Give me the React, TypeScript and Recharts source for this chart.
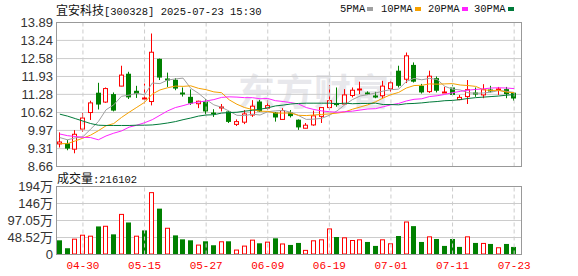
import { Bar, CartesianGrid, ComposedChart, Line, ReferenceLine, XAxis, YAxis } from 'recharts';

const dates = [
  '04-25', '04-28', '04-29', '04-30', '05-06', '05-07', '05-08', '05-09', '05-12', '05-13',
  '05-14', '05-15', '05-16', '05-19', '05-20', '05-21', '05-22', '05-23', '05-26', '05-27',
  '05-28', '05-29', '05-30', '06-03', '06-04', '06-05', '06-06', '06-09', '06-10', '06-11',
  '06-12', '06-13', '06-16', '06-17', '06-18', '06-19', '06-20', '06-23', '06-24', '06-25',
  '06-26', '06-27', '06-30', '07-01', '07-02', '07-03', '07-04', '07-07', '07-08', '07-09',
  '07-10', '07-11', '07-14', '07-15', '07-16', '07-17', '07-18', '07-21', '07-22', '07-23',
];

const opens = [
  9.48, 9.5, 9.29, 10.02, 10.62, 11.34, 11.0, 11.29, 11.58, 12.03,
  11.41, 11.13, 11.02, 12.57, 11.87, 11.81, 11.37, 11.19, 10.94, 11.02,
  10.62, 10.78, 10.66, 10.19, 10.27, 10.53, 11.02, 10.78, 10.62, 10.37,
  10.62, 10.36, 10.05, 10.17, 10.48, 10.8, 10.97, 10.93, 11.24, 11.45,
  11.34, 11.25, 11.23, 11.49, 12.14, 11.83, 12.35, 11.59, 11.38, 11.87,
  11.36, 11.53, 11.09, 11.2, 11.35, 11.26, 11.46, 11.45, 11.47, 11.34,
];
const closes = [
  9.55, 9.31, 9.83, 10.42, 10.97, 10.91, 11.49, 10.69, 11.98, 11.17,
  11.29, 11.18, 12.81, 11.89, 11.83, 11.49, 11.32, 10.95, 11.03, 10.66,
  10.56, 10.83, 10.28, 10.29, 10.57, 10.85, 10.66, 10.87, 10.44, 10.69,
  10.49, 10.08, 10.16, 10.5, 10.8, 11.05, 10.89, 11.26, 11.43, 11.49,
  11.29, 11.2, 11.58, 11.7, 11.59, 12.68, 11.74, 11.35, 11.94, 11.41,
  11.4, 11.26, 11.17, 11.45, 11.31, 11.45, 11.41, 11.48, 11.29, 11.13,
];
const highs = [
  9.9, 9.63, 9.98, 10.6, 11.05, 11.7, 11.53, 11.35, 12.32, 12.1,
  11.59, 11.67, 13.49, 12.58, 12.07, 11.87, 11.53, 11.46, 11.05, 11.11,
  10.74, 10.93, 10.68, 10.37, 10.71, 11.07, 11.08, 11.07, 10.64, 10.78,
  10.71, 10.37, 10.24, 10.69, 10.81, 11.62, 11.53, 11.47, 11.53, 11.74,
  11.39, 11.37, 11.77, 11.77, 12.32, 12.8, 12.44, 11.66, 12.14, 11.93,
  11.55, 11.63, 11.26, 11.8, 11.53, 11.65, 11.59, 11.55, 11.55, 11.35,
];
const lows = [
  9.35, 9.25, 9.14, 9.92, 10.35, 10.73, 10.97, 10.66, 11.57, 11.11,
  11.15, 10.95, 10.88, 11.8, 11.55, 11.43, 11.2, 10.9, 10.78, 10.56,
  10.46, 10.66, 10.24, 10.13, 10.2, 10.46, 10.64, 10.71, 10.29, 10.36,
  10.44, 9.99, 10.04, 10.14, 10.24, 10.71, 10.83, 10.92, 11.17, 11.29,
  11.26, 11.14, 11.14, 11.38, 11.53, 11.69, 11.71, 11.31, 11.33, 11.35,
  11.33, 11.23, 11.07, 10.93, 11.19, 11.14, 11.35, 11.26, 11.14, 11.05,
];

const ma5 = [
  9.71, 9.63, 9.7, 9.74, 10.02, 10.29, 10.72, 10.9, 11.21, 11.25,
  11.32, 11.26, 11.69, 11.67, 11.8, 11.84, 11.87, 11.5, 11.32, 11.09,
  10.9, 10.81, 10.67, 10.52, 10.51, 10.56, 10.53, 10.65, 10.68, 10.7,
  10.63, 10.51, 10.37, 10.38, 10.41, 10.52, 10.68, 10.9, 11.09, 11.22,
  11.27, 11.33, 11.4, 11.45, 11.47, 11.75, 11.86, 11.81, 11.86, 11.82,
  11.57, 11.47, 11.44, 11.34, 11.32, 11.33, 11.36, 11.42, 11.39, 11.35,
];
const ma10 = [
  9.49, 9.49, 9.59, 9.69, 9.8, 9.96, 10.14, 10.22, 10.44, 10.63,
  10.81, 10.99, 11.29, 11.44, 11.52, 11.58, 11.57, 11.59, 11.5, 11.45,
  11.37, 11.34, 11.08, 10.92, 10.8, 10.73, 10.67, 10.66, 10.6, 10.6,
  10.6, 10.52, 10.51, 10.53, 10.55, 10.57, 10.6, 10.64, 10.74, 10.82,
  10.9, 11.01, 11.15, 11.27, 11.35, 11.51, 11.6, 11.61, 11.66, 11.65,
  11.66, 11.67, 11.62, 11.6, 11.57, 11.45, 11.42, 11.43, 11.36, 11.34,
];
const ma20 = [
  9.84, 9.78, 9.75, 9.72, 9.71, 9.63, 9.77, 9.87, 9.95, 10.09,
  10.16, 10.25, 10.36, 10.52, 10.68, 10.8, 10.87, 10.95, 11.0, 11.04,
  11.09, 11.17, 11.19, 11.18, 11.16, 11.16, 11.12, 11.13, 11.05, 11.02,
  10.98, 10.93, 10.8, 10.73, 10.68, 10.65, 10.63, 10.65, 10.67, 10.71,
  10.75, 10.76, 10.83, 10.9, 10.95, 11.04, 11.1, 11.12, 11.2, 11.23,
  11.28, 11.34, 11.39, 11.43, 11.46, 11.48, 11.51, 11.52, 11.51, 11.49,
];
const ma30 = [
  10.56, 10.49, 10.4, 10.31, 10.22, 10.16, 10.15, 10.15, 10.15, 10.15,
  10.16, 10.16, 10.17, 10.2, 10.24, 10.29, 10.36, 10.42, 10.49, 10.53,
  10.54, 10.6, 10.62, 10.63, 10.67, 10.7, 10.74, 10.79, 10.86, 10.89,
  10.93, 10.95, 10.96, 10.96, 10.96, 10.96, 10.94, 10.96, 10.94, 10.95,
  10.95, 10.96, 10.91, 10.91, 10.9, 10.94, 10.95, 10.97, 11.0, 11.02,
  11.05, 11.06, 11.09, 11.13, 11.16, 11.18, 11.2, 11.22, 11.25, 11.27,
];

const volumes = [
  405000, 179000, 452000, 565000, 537000, 801000, 820000, 575000, 1159000, 914000,
  537000, 688000, 1780000, 1309000, 763000, 546000, 433000, 405000, 283000, 377000,
  264000, 377000, 377000, 141000, 254000, 424000, 320000, 367000, 462000, 315000,
  273000, 330000, 132000, 405000, 433000, 744000, 499000, 490000, 414000, 433000,
  358000, 245000, 433000, 320000, 528000, 942000, 810000, 358000, 518000, 443000,
  245000, 443000, 217000, 518000, 330000, 330000, 301000, 207000, 301000, 216102,
];
const volDir = [
  'g', 'g', 'r', 'r', 'r', 'g', 'r', 'g', 'r', 'g',
  'r', 'g', 'r', 'g', 'r', 'g', 'g', 'g', 'r', 'g',
  'g', 'r', 'g', 'r', 'r', 'r', 'g', 'r', 'g', 'r',
  'g', 'g', 'r', 'r', 'r', 'r', 'g', 'r', 'r', 'r',
  'g', 'g', 'r', 'r', 'g', 'r', 'g', 'g', 'r', 'g',
  'g', 'g', 'g', 'r', 'g', 'r', 'g', 'r', 'g', 'g',
];

const priceTicks = [8.66, 9.31, 9.97, 10.62, 11.28, 11.93, 12.58, 13.24, 13.89];
const volTicks = [0, 485200, 970500, 1456000, 1941000];
const volTickLabels = ['0', '48.52万', '97.05万', '146万', '194万'];
const labelDates = ['04-30', '05-15', '05-27', '06-09', '06-19', '07-01', '07-11', '07-23'];

const RED = '#ff0000';
const GREEN = '#008000';
const GRID = '#cccccc';
const BORDER = '#999999';
const AXIS_FONT = '"Liberation Sans", "Noto Sans CJK SC", sans-serif';
const MONO_FONT = '"Liberation Mono", "DejaVu Sans Mono", "Noto Sans CJK SC", monospace';
const CJK_FONT = '"Noto Sans CJK SC", sans-serif';

const priceData = dates.map((date, i) => ({
  date,
  open: opens[i],
  close: closes[i],
  high: highs[i],
  low: lows[i],
  range: [lows[i], highs[i]],
  ma5: ma5[i],
  ma10: ma10[i],
  ma20: ma20[i],
  ma30: ma30[i],
}));

const volData = dates.map((date, i) => ({ date, vol: volumes[i], dir: volDir[i] }));

function Candle(props: any) {
  const { x, y, width, height, payload } = props;
  if (x == null || y == null || !payload) return null;
  const { open, close, high, low } = payload;
  const top = Math.min(y, y + height);
  const h = Math.abs(height);
  const toY = (p: number) => top + ((high - p) / (high - low || 1)) * h;
  const L = Math.round(x + width / 2 - 2.5);
  const cx = L + 2.5;
  const oY = toY(open);
  const cY = toY(close);
  const bTop = Math.min(oY, cY);
  const bBot = Math.max(oY, cY);
  const up = close >= open;
  const color = up ? RED : GREEN;
  const bottom = top + h;

  // near-flat body: draw a short bar across the wick
  if (bBot - bTop < 1.5) {
    const my = Math.round((bTop + bBot) / 2) + 0.5;
    return (
      <g>
        <line x1={cx} x2={cx} y1={top} y2={bottom} stroke={color} strokeWidth={1} />
        <line x1={L} x2={L + 5} y1={my} y2={my} stroke={color} strokeWidth={2} />
      </g>
    );
  }
  if (up) {
    return (
      <g>
        <line x1={cx} x2={cx} y1={top} y2={bTop} stroke={color} strokeWidth={1} />
        <line x1={cx} x2={cx} y1={bBot} y2={bottom} stroke={color} strokeWidth={1} />
        <rect x={L + 0.5} y={bTop} width={4} height={bBot - bTop} fill="#ffffff" stroke={color} strokeWidth={1} />
      </g>
    );
  }
  return (
    <g>
      <line x1={cx} x2={cx} y1={top} y2={bottom} stroke={color} strokeWidth={1} />
      <rect x={L} y={bTop} width={5} height={bBot - bTop} fill={color} />
    </g>
  );
}

function VolBar(props: any) {
  const { x, y, width, height, payload } = props;
  if (x == null || y == null || !payload) return null;
  const L = Math.round(x + width / 2 - 2.5);
  const top = Math.min(y, y + height);
  const h = Math.abs(height);
  if (payload.dir === 'r') {
    return (
      <rect x={L + 0.5} y={top + 0.5} width={4} height={Math.max(h - 1, 1)} fill="#ffffff" stroke={RED} strokeWidth={1} />
    );
  }
  return <rect x={L} y={top} width={5} height={h} fill={GREEN} />;
}

const legend = [
  { label: '5PMA', color: '#a0a0a0', left: 340 },
  { label: '10PMA', color: '#f5a000', left: 381 },
  { label: '20PMA', color: '#ff22ff', left: 428 },
  { label: '30PMA', color: '#007a3a', left: 474 },
];

export default function App() {
  return (
    <div
      style={{
        position: 'absolute',
        left: 0,
        top: 0,
        width: 578,
        height: 276,
        background: '#ffffff',
        overflow: 'hidden',
      }}
    >
      {/* watermark sits under the chart */}
      <div
        style={{
          position: 'absolute',
          left: 238,
          top: 70,
          fontFamily: CJK_FONT,
          fontWeight: 700,
          fontSize: 37,
          lineHeight: '40px',
          color: '#e8e8ec',
          letterSpacing: 1,
        }}
      >
        东方财富
      </div>

      <div style={{ position: 'absolute', left: 56, top: 3, fontFamily: MONO_FONT, fontSize: 10.5, lineHeight: '13px', color: '#111', whiteSpace: 'nowrap' }}>
        <span style={{ fontFamily: CJK_FONT, fontSize: 12 }}>宜安科技</span>[300328] 2025-07-23 15:30
      </div>

      {legend.map((item) => (
        <div
          key={item.label}
          style={{ position: 'absolute', left: item.left, top: 3, fontFamily: MONO_FONT, fontSize: 10.5, lineHeight: '13px', color: '#111', whiteSpace: 'nowrap' }}
        >
          {item.label}
          <span style={{ display: 'inline-block', width: 6, height: 4, background: item.color, marginLeft: 2, verticalAlign: 'middle' }} />
        </div>
      ))}

      <div style={{ position: 'absolute', left: 57, top: 171, fontFamily: MONO_FONT, fontSize: 10.5, lineHeight: '13px', color: '#111', whiteSpace: 'nowrap' }}>
        <span style={{ fontFamily: CJK_FONT, fontSize: 12 }}>成交量</span>:216102
      </div>

      <div style={{ position: 'absolute', left: 0, top: 172 }}>
        <ComposedChart width={578} height={104} data={volData} margin={{ top: 14.5, right: 57, bottom: 0, left: 0 }}>
          <CartesianGrid vertical={false} stroke={GRID} />
          <XAxis
            dataKey="date"
            ticks={labelDates}
            interval={0}
            height={21.5}
            padding={{ left: 0, right: 3 }}
            axisLine={false}
            tickLine={false}
            tickSize={0}
            tickMargin={7}
            tick={{ fontSize: 11, fill: RED, fontFamily: MONO_FONT }}
          />
          <YAxis
            domain={[0, 1941000]}
            ticks={volTicks}
            interval={0}
            allowDataOverflow
            width={56}
            axisLine={false}
            tickLine={false}
            tickSize={0}
            tickMargin={3}
            tickFormatter={(v: number) => volTickLabels[volTicks.indexOf(v)] ?? ''}
            tick={{ fontSize: 13, fill: '#333', fontFamily: AXIS_FONT }}
          />
          {labelDates.map((d) => (
            <ReferenceLine key={d} x={d} stroke={GRID} strokeDasharray="4 3" />
          ))}
          <Bar dataKey="vol" barSize={5} shape={VolBar} isAnimationActive={false} />
        </ComposedChart>
      </div>

      <div style={{ position: 'absolute', left: 0, top: 0 }}>
        <ComposedChart width={578} height={178} data={priceData} margin={{ top: 22.5, right: 57, bottom: 11.5, left: 0 }}>
          <CartesianGrid vertical={false} stroke={GRID} />
          <XAxis dataKey="date" hide padding={{ left: 0, right: 3 }} />
          <YAxis
            domain={[8.66, 13.89]}
            ticks={priceTicks}
            interval={0}
            allowDataOverflow
            width={56}
            axisLine={false}
            tickLine={false}
            tickSize={0}
            tickMargin={3}
            tickFormatter={(v: number) => v.toFixed(2)}
            tick={{ fontSize: 13, fill: '#333', fontFamily: AXIS_FONT }}
          />
          {labelDates.map((d) => (
            <ReferenceLine key={d} x={d} stroke={GRID} strokeDasharray="4 3" />
          ))}
          <Bar dataKey="range" barSize={5} shape={Candle} isAnimationActive={false} />
          <Line type="linear" dataKey="ma5" stroke="#a0a0a0" strokeWidth={1} dot={false} isAnimationActive={false} />
          <Line type="linear" dataKey="ma10" stroke="#f5a000" strokeWidth={1} dot={false} isAnimationActive={false} />
          <Line type="linear" dataKey="ma20" stroke="#ff22ff" strokeWidth={1} dot={false} isAnimationActive={false} />
          <Line type="linear" dataKey="ma30" stroke="#007a3a" strokeWidth={1} dot={false} isAnimationActive={false} />
        </ComposedChart>
      </div>

      {/* plot frames */}
      <div style={{ position: 'absolute', left: 56, top: 22, width: 466, height: 145, border: `1px solid ${BORDER}`, boxSizing: 'border-box', pointerEvents: 'none' }} />
      <div style={{ position: 'absolute', left: 56, top: 186, width: 466, height: 69, border: `1px solid ${BORDER}`, boxSizing: 'border-box', pointerEvents: 'none' }} />
    </div>
  );
}
